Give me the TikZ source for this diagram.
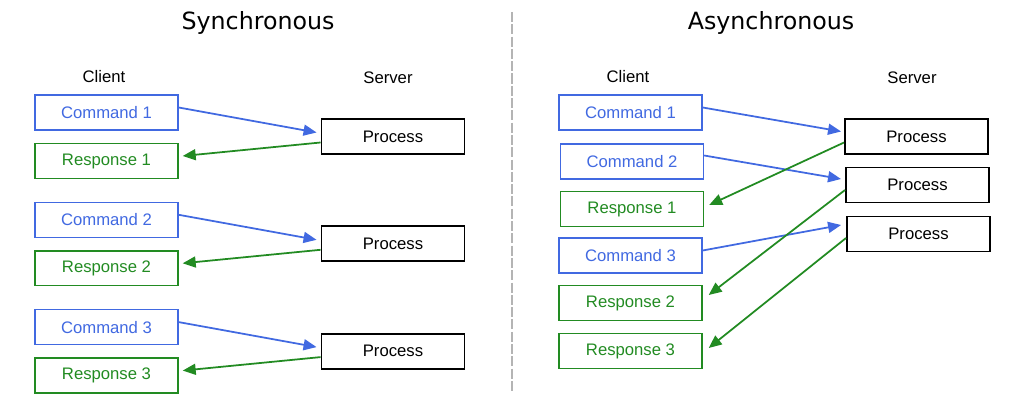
\documentclass[tikz,border=0pt]{standalone}
\usepackage{fontspec}
\setmainfont{Liberation Sans}
\newfontfamily\titlefont{DejaVu Sans}
\usetikzlibrary{calc,
	positioning,
	arrows.meta}
\definecolor{cmdblue}{HTML}{4169E1}
\definecolor{respgreen}{HTML}{228B22}
\definecolor{divgray}{HTML}{B4B4B4}

\begin{document}
\begin{tikzpicture}[x=0.02cm,y=-0.02cm,
	box/.style={draw,line width=0.8pt,minimum width=2.86cm,minimum height=0.7cm,inner sep=0pt,font=\fontsize{9.5}{11}\selectfont},
	cmdbox/.style={box,draw=cmdblue,text=cmdblue},
	respbox/.style={box,draw=respgreen,text=respgreen},
	procbox/.style={box,draw=black,line width=1.1pt},
	cmdarrow/.style={cmdblue,line width=1pt,-{Triangle[length=2.6mm,width=2.2mm]}},
	resparrow/.style={cmdarrow,respgreen},
	sidelabel/.style={font=\fontsize{9.5}{11}\selectfont},
	title/.style={font=\titlefont\fontsize{13.5}{16}\selectfont}]
	\useasboundingbox (0,0) rectangle (1024,405);
	% synchronous
	\node[title] (synctitle) at (258,23) {Synchronous};
	\node[sidelabel] (sclient) at (104,77) {Client};
	\node[sidelabel] (sserver) at (388,78) {Server};
	\foreach \i in {1,2,3} {
		\pgfmathsetmacro{\y}{(\i-1)*107.3}
		\node[cmdbox] (scmd\i) at (106.5,112.5+\y) {Command \i};
		\node[respbox] (sresp\i) at (106.5,161+\y) {Response \i};
		\node[procbox] (sproc\i) at (393,136.5+\y) {Process};
		\draw[cmdarrow] ($(scmd\i.east)+(0,-5)$) -- ($(sproc\i.west)+(-4,-4)$);
		\draw[resparrow] ($(sproc\i.west)+(0,6)$) -- ($(sresp\i.east)+(4,-5)$);
	}
	\draw[divgray,line width=1pt,dash pattern=on 5.7pt off 1.3pt] (512,12) -- (512,392);
	% asynchronous
	\node[title] (asynctitle) at (771,23) {Asynchronous};
	\node[sidelabel] (aclient) at (628,77) {Client};
	\node[sidelabel] (aserver) at (912,78) {Server};
	\node[cmdbox] (acmd1) at (630.5,112.5) {Command 1};
	\node[cmdbox] (acmd2) at (632,161.5) {Command 2};
	\node[respbox] (aresp1) at (632,209) {Response 1};
	\node[cmdbox] (acmd3) at (630.5,255.5) {Command 3};
	\node[respbox] (aresp2) at (630.5,303) {Response 2};
	\node[respbox] (aresp3) at (630.5,351) {Response 3};
	\node[procbox] (aproc1) at (916.5,136.5) {Process};
	\node[procbox] (aproc2) at (917.5,185) {Process};
	\node[procbox] (aproc3) at (918.5,234) {Process};
	\draw[cmdarrow] ($(acmd1.east)+(0,-5)$) -- ($(aproc1.west)+(-3,-5)$);
	\draw[cmdarrow] ($(acmd2.east)+(0,-6)$) -- ($(aproc2.west)+(-4,-6)$);
	\draw[cmdarrow] ($(acmd3.east)+(0,-5)$) -- ($(aproc3.west)+(-5,-9)$);
	\draw[resparrow] ($(aproc1.west)+(0,6)$) -- ($(aresp1.east)+(5,-4)$);
	\draw[resparrow] ($(aproc2.west)+(0,5)$) -- ($(aresp2.east)+(6,-8)$);
	\draw[resparrow] ($(aproc3.west)+(0,4)$) -- ($(aresp3.east)+(6,-3)$);
\end{tikzpicture}
\end{document}
